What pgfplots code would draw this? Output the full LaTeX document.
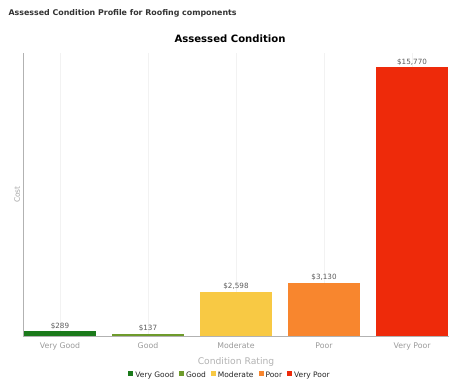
\documentclass[border=0pt]{standalone}
\usepackage{pgfplots}
\pgfplotsset{compat=1.18}
\usepackage{fontspec}
\setmainfont{DejaVu Sans}
\definecolor{cVG}{HTML}{1B7A1B}
\definecolor{cG}{HTML}{6E9B2B}
\definecolor{cM}{HTML}{F8C944}
\definecolor{cP}{HTML}{F8862E}
\definecolor{cVP}{HTML}{EE2A0A}
\definecolor{tgray}{HTML}{9A9A9A}
\definecolor{lgray}{HTML}{5A5A5A}
\begin{document}
\begin{tikzpicture}
\node[anchor=west, font=\fontsize{7.9}{9}\selectfont\bfseries, text=black!80] at (5pt,373pt) {Assessed Condition Profile for Roofing components};
\begin{axis}[
  at={(23pt,50pt)}, anchor=south west,
  scale only axis, width=426pt, height=283pt,
  ybar, bar width=72pt,
  xmin=-0.42, xmax=4.42, ymin=0, ymax=16600,
  xtick={0,1,2,3,4},
  xticklabels={Very Good,Good,Moderate,Poor,Very Poor},
  xticklabel style={font=\fontsize{7.8}{9}\selectfont, text=tgray, yshift=-3pt},
  major tick length=0pt,
  ytick=\empty,
  xmajorgrids, grid style={draw=black!5},
  axis x line*=bottom, axis y line*=left,
  axis line style={draw=black!30, -},
  xlabel={Condition Rating},
  xlabel style={font=\fontsize{9.2}{10}\selectfont, text=black!30, yshift=-1pt},
  ylabel={Cost},
  ylabel style={font=\fontsize{7.5}{8}\selectfont, text=black!35, at={(axis description cs:-0.014,0.5)}, anchor=center},
  title={Assessed Condition},
  title style={font=\fontsize{10.1}{12}\selectfont\bfseries, at={(axis description cs:0.486,1.028)}, anchor=center},
  /pgf/number format/assume math mode=true,
  nodes near coords={\$\pgfmathprintnumber[1000 sep={,}]{\pgfplotspointmeta}},
  nodes near coords style={font=\fontsize{7.2}{8}\selectfont, text=lgray, inner sep=1.5pt},
  legend columns=5,
  legend style={draw=none, font=\fontsize{7.5}{8.5}\selectfont, text=black!85,
    at={(axis description cs:0.486,-0.141)}, anchor=center,
    nodes={text height=5.6pt, text depth=1.6pt},
    /tikz/every even column/.append style={column sep=3pt}},
  legend image code/.code={\fill[#1] (0pt,-0.5pt) rectangle (5pt,4.5pt);},
  legend cell align=left,
]
\addplot[bar shift=0pt, fill=cVG, draw=none] coordinates {(0,289)};
\addplot[bar shift=0pt, fill=cG, draw=none] coordinates {(1,137)};
\addplot[bar shift=0pt, fill=cM, draw=none] coordinates {(2,2598)};
\addplot[bar shift=0pt, fill=cP, draw=none] coordinates {(3,3130)};
\addplot[bar shift=0pt, fill=cVP, draw=none] coordinates {(4,15770)};
\legend{Very Good,Good,Moderate,Poor,Very Poor}
\end{axis}
\pgfresetboundingbox
\useasboundingbox (0,0) rectangle (463pt,386pt);
\end{tikzpicture}
\end{document}
